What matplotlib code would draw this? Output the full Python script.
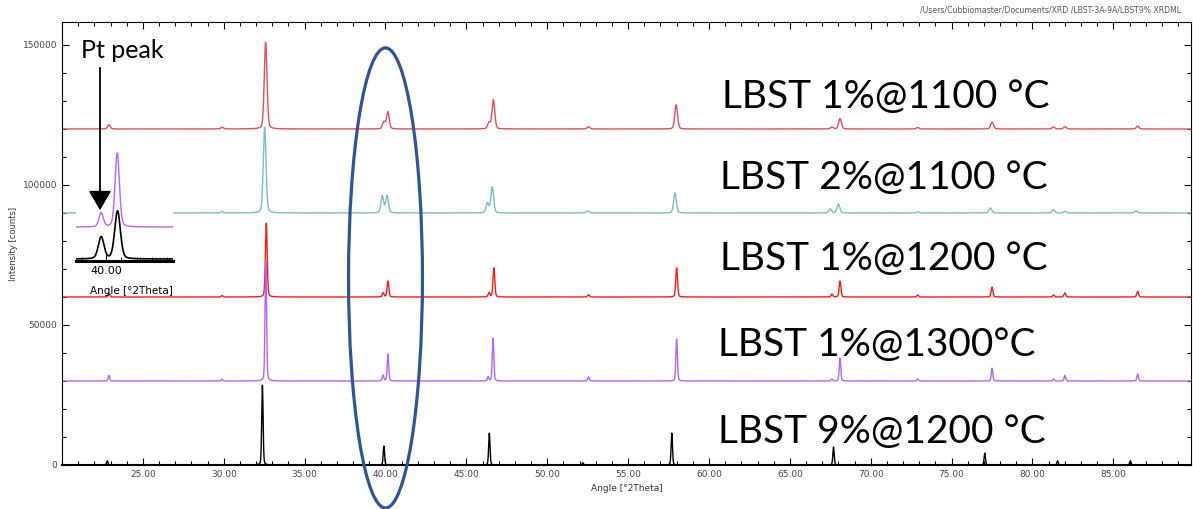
import numpy as np
import matplotlib.pyplot as plt
from matplotlib.patches import Ellipse, FancyArrowPatch

# 样品标签和偏移
labels = ['LBST 1%@1100 °C', 'LBST 2%@1100 °C', 'LBST 1%@1200 °C', 'LBST 1%@1300°C', 'LBST 9%@1200 °C']
offsets = [120000, 90000, 60000, 30000, 0]
colors = ['#e0505a', '#80bcc4', '#ff1a1a', '#b366ff', '#000000']
label_y = [97, 178, 259, 345, 432]   # 标签中心 (像素, 从上往下)
label_x = [722, 720, 720, 718, 718]

# 各样品的峰位 (°2Theta) 和峰高 (counts)
peaks_1100_1 = [22.9, 29.9, 32.59, 39.9, 40.15, 46.4, 46.67, 52.55, 57.97, 67.6, 68.1, 72.9, 77.5, 81.3, 82.0, 86.5]
heights_1100_1 = [1500, 600, 31000, 2500, 6100, 2200, 10400, 800, 8600, 700, 3700, 500, 2500, 700, 800, 1000]

peaks_1100_2 = [22.9, 29.9, 32.53, 39.8, 40.1, 46.3, 46.6, 52.5, 57.9, 67.5, 68.0, 72.9, 77.4, 81.3, 82.0, 86.4]
heights_1100_2 = [800, 500, 30700, 6100, 6100, 3500, 9300, 800, 7100, 1400, 3200, 400, 1800, 1200, 600, 800]

peaks_1200_1 = [22.9, 29.9, 32.63, 39.85, 40.15, 46.4, 46.7, 52.55, 58.0, 67.6, 68.1, 72.9, 77.5, 81.3, 82.0, 86.5]
heights_1200_1 = [1200, 500, 26400, 1500, 5700, 1500, 10400, 800, 10400, 1000, 5700, 700, 3500, 700, 1500, 2000]

peaks_1300_1 = [22.9, 29.9, 32.6, 39.85, 40.15, 46.35, 46.65, 52.55, 58.0, 67.6, 68.1, 72.9, 77.5, 81.3, 82.0, 86.5]
heights_1300_1 = [2000, 600, 43000, 2100, 9600, 1500, 15300, 1500, 15000, 700, 8200, 700, 4600, 700, 2000, 2500]

peaks_1200_9 = [22.8, 32.39, 39.9, 46.42, 52.2, 57.7, 67.7, 77.05, 81.55, 86.05]
heights_1200_9 = [1500, 28600, 6800, 11400, 800, 11400, 6400, 4300, 1500, 1500]

peak_sets = [peaks_1100_1, peaks_1100_2, peaks_1200_1, peaks_1300_1, peaks_1200_9]
height_sets = [heights_1100_1, heights_1100_2, heights_1200_1, heights_1300_1, heights_1200_9]
fwhm = [0.2, 0.2, 0.13, 0.11, 0.1]

# 插图 (Pt 峰放大)
inset_peaks_purple = [39.83, 40.36]
inset_heights_purple = [1400, 7400]
inset_peaks_black = [39.83, 40.37]
inset_heights_black = [2200, 4800]
inset_offset_purple = 3200


def profile(x, pos, hts, w):
    y = np.zeros_like(x)
    for p, h in zip(pos, hts):
        g = np.exp(-4 * np.log(2) * (x - p) ** 2 / w ** 2)
        l = 1 / (1 + 4 * (x - p) ** 2 / w ** 2)
        y += h * (0.75 * g + 0.25 * l)
    return y


W, H = 1193, 509
fig = plt.figure(figsize=(W / 100, H / 100), dpi=100)
ax = fig.add_axes([62 / W, 44 / H, (1191 - 62) / W, (465 - 22) / H])

x = np.linspace(20, 89.8, 7000)
for pos, hts, off, c, w in zip(peak_sets, height_sets, offsets, colors, fwhm):
    ax.plot(x, profile(x, pos, hts, w) + off, color=c, lw=1.0)

ax.set_xlim(20, 89.8)
ax.set_ylim(0, 158200)
ax.set_xticks(np.arange(25, 90, 5))
ax.set_xticks(np.arange(21, 90, 1), minor=True)
ax.set_xticklabels([f'{v:.2f}' for v in np.arange(25, 90, 5)])
ax.set_yticks([0, 50000, 100000, 150000])
ax.set_yticks(np.arange(0, 158000, 10000), minor=True)
ax.tick_params(which='both', direction='in', top=True, right=True, labelsize=6.5,
               labelcolor='#444444', width=0.8)
ax.tick_params(which='major', length=5)
ax.tick_params(which='minor', length=3)
for s in ax.spines.values():
    s.set_linewidth(0.8)
ax.spines['bottom'].set_linewidth(1.5)
ax.set_xlabel('Angle [°2Theta]', fontsize=6.5, color='#333333', labelpad=4)
ax.set_ylabel('Intensity [counts]', fontsize=6, color='#333333', labelpad=3)

for lab, lx, ly in zip(labels, label_x, label_y):
    fig.text(lx / W, 1 - ly / H, lab, fontsize=28, family=['Lato', 'DejaVu Sans'],
             va='center', ha='left')

fig.text(920 / W, 1 - 10 / H, '/Users/Cubbiomaster/Documents/XRD /LBST-3A-9A/LBST9%.XRDML',
         fontsize=5.6, color='#555555', va='center')

# 蓝色椭圆
ell = Ellipse((40.0, 66800), 4.57, 164300, fill=False, edgecolor='#2f5597', lw=2.3,
              clip_on=False, zorder=10)
ax.add_patch(ell)

# 插图
axi = fig.add_axes([76 / W, (509 - 261) / H, 97 / W, 111 / H])
xi = np.linspace(39.0, 42.2, 600)
axi.plot(xi, profile(xi, inset_peaks_purple, inset_heights_purple, 0.17) + inset_offset_purple,
         color='#b366ff', lw=1.0)
axi.plot(xi, profile(xi, inset_peaks_black, inset_heights_black, 0.22), color='k', lw=1.2)
axi.set_xlim(39.0, 42.2)
axi.set_ylim(-200, 10900)
for s in ['top', 'left', 'right']:
    axi.spines[s].set_visible(False)
axi.spines['bottom'].set_linewidth(2.2)
axi.set_yticks([])
axi.set_xticks([40.0])
axi.set_xticks([39.2, 40.5, 41.0, 41.5, 42.0], minor=True)
axi.set_xticklabels(['40.00'])
axi.tick_params(which='both', direction='in', labelsize=8)
axi.tick_params(which='major', length=5)
axi.tick_params(which='minor', length=3)
fig.text(131 / W, 1 - 291 / H, 'Angle [°2Theta]', fontsize=7.5, ha='center', va='center')

# Pt peak 箭头
fig.text(122 / W, 1 - 50 / H, 'Pt peak', fontsize=18, family=['Lato', 'DejaVu Sans'],
         ha='center', va='center')
arrow = FancyArrowPatch((100 / W, 1 - 65 / H), (100 / W, 1 - 213 / H),
                        transform=fig.transFigure,
                        arrowstyle='-|>,head_length=0.6,head_width=0.35',
                        mutation_scale=20, color='k', lw=1.3, zorder=5)
fig.add_artist(arrow)

fig.savefig('out.png', dpi=100)
